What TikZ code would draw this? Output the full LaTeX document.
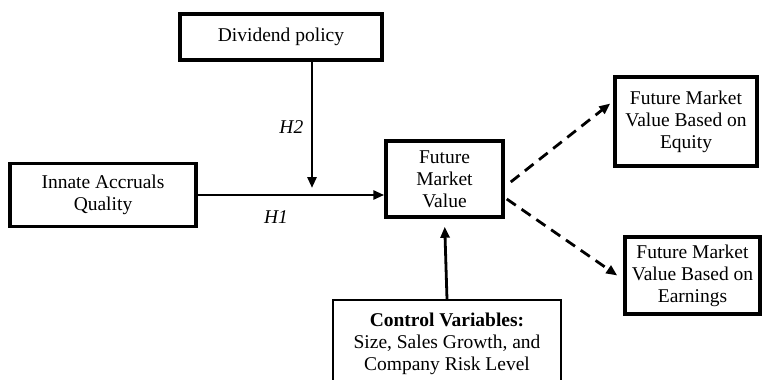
\documentclass[tikz,border=0pt]{standalone}
\usepackage{fontspec}
\setmainfont{Liberation Serif}
\usetikzlibrary{arrows.meta,calc}

\begin{document}
\begin{tikzpicture}
  [x=1pt,y=-1pt,
   font=\fontsize{19.5}{22}\selectfont,
   var/.style={draw,line width=3.5pt,align=center,inner sep=2pt},
   ctrlbox/.style={draw,line width=1.4pt,align=center,inner sep=2pt},
   to/.style={line width=2.8pt,-{Triangle[length=11pt,width=9pt]}},
   dashto/.style={to,dash pattern=on 11pt off 7pt},
   hyp/.style={font=\fontsize{19.5}{22}\selectfont\itshape}]

  \useasboundingbox (0,0) rectangle (764,380);

  \node[var,minimum width=202pt,minimum height=46pt] (div) at (281,37) {Dividend policy};
  \node[var,minimum width=186pt,minimum height=63pt] (iaq) at (103,195) {Innate Accruals\\Quality};
  \node[var,minimum width=117pt,minimum height=76pt] (fmv) at (444.5,179) {Future\\Market\\Value};
  \node[var,minimum width=142pt,minimum height=89pt] (eqt) at (686,121.5) {Future Market\\Value Based on\\Equity};
  \node[var,minimum width=135pt,minimum height=77pt] (ern) at (692.5,275.5) {Future Market\\Value Based on\\Earnings};
  \node[ctrlbox,minimum width=228pt,minimum height=88pt] (ctrl) at (447,344) {\textbf{Control Variables:}\\Size, Sales Growth, and\\Company Risk Level};

  \coordinate (h2end) at (312,188);

  \draw[to] (iaq.east) -- node[hyp,pos=0.42,below=11pt] (h1) {H1} (iaq.east -| fmv.west);
  \draw[to] (div.south -| h2end) -- node[hyp,pos=0.52,left=4pt] (h2) {H2} (h2end);
  \draw[to,shorten >=8pt] (ctrl.north) -- (fmv.south);
  \draw[dashto] ([xshift=6pt,yshift=-3pt]fmv.east) -- ([xshift=-3pt,yshift=18pt]eqt.west);
  \draw[dashto] ([xshift=2pt,yshift=-20pt]fmv.east) -- ([xshift=-6pt]ern.west);

\end{tikzpicture}
\end{document}
